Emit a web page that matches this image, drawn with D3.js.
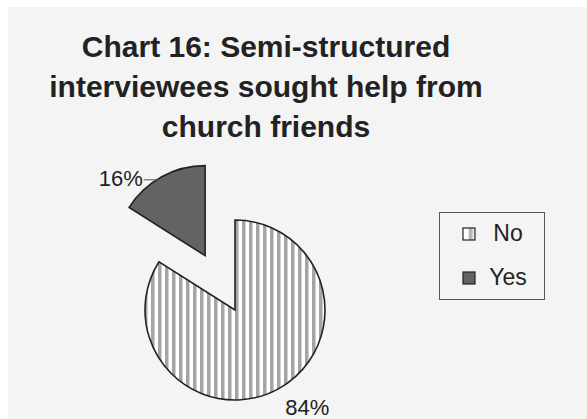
<!DOCTYPE html>
<html>
<head>
<meta charset="utf-8">
<script src="https://cdn.jsdelivr.net/npm/d3@7"></script>
<style>
  html, body { margin: 0; padding: 0; background: #ffffff; }
  svg { display: block; }
  text { font-family: "Liberation Sans", Arial, sans-serif; fill: #222222; }
</style>
</head>
<body>
<svg id="chart" width="587" height="419"></svg>
<script>
// Chart data
const categories = ["No", "Yes"];
const values = [84, 16];
const valueLabels = ["84%", "16%"];
const titleLines = [
  "Chart 16: Semi-structured",
  "interviewees sought help from",
  "church friends"
];

const svg = d3.select("#chart");
const W = 587, H = 419;

// Grey chart panel
svg.append("rect")
  .attr("x", 8).attr("y", 7)
  .attr("width", W - 8).attr("height", H - 7)
  .attr("fill", "#f4f4f4");

// Vertical stripe pattern for the "No" slice
const defs = svg.append("defs");
const pat = defs.append("pattern")
  .attr("id", "stripes")
  .attr("patternUnits", "userSpaceOnUse")
  .attr("width", 7).attr("height", 7);
pat.append("rect").attr("width", 7).attr("height", 7).attr("fill", "#ffffff");
pat.append("rect").attr("x", 0).attr("width", 3.5).attr("height", 7).attr("fill", "#a4a4a4");

// Legend key swatch for "No": white with a grey band
const grad = defs.append("linearGradient").attr("id", "noKey");
grad.append("stop").attr("offset", "0%").attr("stop-color", "#ffffff");
grad.append("stop").attr("offset", "40%").attr("stop-color", "#ffffff");
grad.append("stop").attr("offset", "60%").attr("stop-color", "#a4a4a4");
grad.append("stop").attr("offset", "100%").attr("stop-color", "#ffffff");

const fills = { "No": "url(#stripes)", "Yes": "#636363" };
const keyFills = { "No": "url(#noKey)", "Yes": "#636363" };

// Title
const title = svg.append("text")
  .attr("text-anchor", "middle")
  .style("font-size", "30px")
  .style("font-weight", "bold");
titleLines.forEach((line, i) => {
  title.append("tspan").attr("x", 266).attr("y", 57 + i * 40).text(line);
});

// Pie
const cx = 235, cy = 310, R = 90, explode = 62;
const pie = d3.pie().sort(null).startAngle(0).endAngle(2 * Math.PI);
const arcs = pie(values);
const arc = d3.arc().innerRadius(0).outerRadius(R);

const g = svg.append("g").attr("transform", `translate(${cx},${cy})`);

arcs.forEach((a, i) => {
  const cat = categories[i];
  const mid = (a.startAngle + a.endAngle) / 2;
  const dx = Math.sin(mid), dy = -Math.cos(mid);
  const off = cat === "Yes" ? explode : 0;
  const ox = dx * off, oy = dy * off;

  g.append("path")
    .attr("d", arc(a))
    .attr("transform", `translate(${ox},${oy})`)
    .attr("fill", fills[cat])
    .attr("stroke", "#222222")
    .attr("stroke-width", 1.6)
    .attr("stroke-linejoin", "miter");

  // Point on the slice rim at its mid-angle
  const ex = ox + dx * R, ey = oy + dy * R;

  if (cat === "Yes") {
    g.append("line")
      .attr("x1", ex - 2).attr("y1", ey + 3)
      .attr("x2", ex - 18).attr("y2", ey + 3)
      .attr("stroke", "#555555").attr("stroke-width", 1);
    g.append("text")
      .attr("x", ex - 19).attr("y", ey + 9)
      .attr("text-anchor", "end")
      .style("font-size", "22px")
      .text(valueLabels[i]);
  } else {
    g.append("text")
      .attr("x", ex + 7).attr("y", ey + 26)
      .attr("text-anchor", "start")
      .style("font-size", "22px")
      .text(valueLabels[i]);
  }
});

// Legend
const legend = svg.append("g");
legend.append("rect")
  .attr("x", 439.5).attr("y", 212.5)
  .attr("width", 105).attr("height", 87)
  .attr("fill", "#f4f4f4")
  .attr("stroke", "#555555").attr("stroke-width", 1);

categories.forEach((cat, i) => {
  const y = 228 + i * 44;
  legend.append("rect")
    .attr("x", 463).attr("y", y)
    .attr("width", 12).attr("height", 12)
    .attr("fill", keyFills[cat])
    .attr("stroke", "#222222").attr("stroke-width", 1.2);
  legend.append("text")
    .attr("x", 508).attr("y", y + 13)
    .attr("text-anchor", "middle")
    .style("font-size", "23px")
    .text(cat);
});
</script>
</body>
</html>
